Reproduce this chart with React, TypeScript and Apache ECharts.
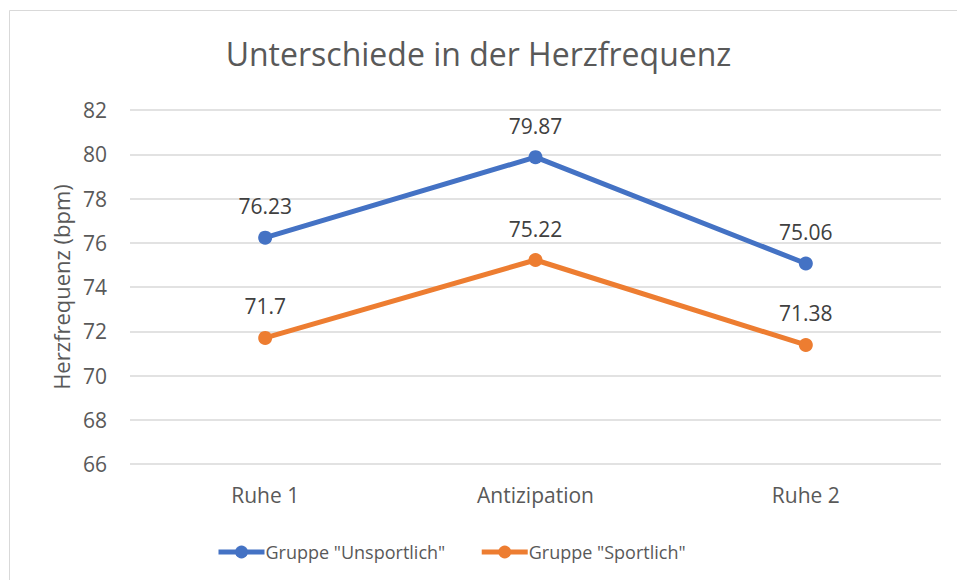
import React, { useEffect, useRef } from "react";
import * as echarts from "echarts";

const categories = ["Ruhe 1", "Antizipation", "Ruhe 2"];
const unsportlich = [76.23, 79.87, 75.06];
const sportlich = [71.7, 75.22, 71.38];
const seriesNames = ['Gruppe "Unsportlich"', 'Gruppe "Sportlich"'];
const titleText = "Unterschiede in der Herzfrequenz";
const yName = "Herzfrequenz (bpm)";

const FONT = "'Open Sans', 'Noto Sans', sans-serif";

export default function App() {
  const ref = useRef<HTMLDivElement>(null);
  useEffect(() => {
    if (!ref.current) return;
    const chart = echarts.init(ref.current, null, { renderer: "svg" });
    const label = {
      show: true,
      position: "top" as const,
      distance: 14,
      color: "#404040",
      fontSize: 21,
      fontFamily: FONT,
    };
    chart.setOption({
      animation: false,
      backgroundColor: "#ffffff",
      graphic: [
        {
          type: "line",
          shape: { x1: 9.5, y1: 10.5, x2: 957, y2: 10.5 },
          style: { stroke: "#d9d9d9", lineWidth: 1 },
          silent: true,
          z: -10,
        },
        {
          type: "line",
          shape: { x1: 9.5, y1: 10.5, x2: 9.5, y2: 580 },
          style: { stroke: "#d9d9d9", lineWidth: 1 },
          silent: true,
          z: -10,
        },
      ],
      title: {
        text: titleText,
        left: "center",
        top: 32,
        textStyle: {
          fontFamily: FONT,
          fontSize: 32,
          fontWeight: "normal",
          color: "#595959",
        },
      },
      legend: {
        bottom: 14,
        left: 211,
        itemWidth: 46,
        itemHeight: 16,
        itemGap: 34,
        textStyle: { fontFamily: FONT, fontSize: 18, color: "#595959", padding: [0, 0, 0, -4] },
        lineStyle: { width: 5 },
        data: seriesNames,
      },
      grid: { left: 130, right: 16, top: 110, bottom: 116 },
      xAxis: {
        type: "category",
        data: categories,
        axisLine: { show: false },
        axisTick: { show: false },
        axisLabel: {
          fontFamily: FONT,
          fontSize: 21,
          color: "#595959",
          margin: 20,
        },
      },
      yAxis: {
        type: "value",
        min: 66,
        max: 82,
        interval: 2,
        name: yName,
        nameLocation: "middle",
        nameGap: 58,
        nameTextStyle: { fontFamily: FONT, fontSize: 22, color: "#595959" },
        axisLine: { show: false },
        axisTick: { show: false },
        axisLabel: { fontFamily: FONT, fontSize: 21, color: "#595959", margin: 23 },
        splitLine: { lineStyle: { color: "#d9d9d9", width: 1.5 } },
      },
      series: [
        {
          name: seriesNames[0],
          type: "line",
          data: unsportlich,
          symbol: "circle",
          symbolSize: 14,
          lineStyle: { width: 5, color: "#4472c4" },
          itemStyle: { color: "#4472c4" },
          label,
        },
        {
          name: seriesNames[1],
          type: "line",
          data: sportlich,
          symbol: "circle",
          symbolSize: 14,
          lineStyle: { width: 5, color: "#ed7d31" },
          itemStyle: { color: "#ed7d31" },
          label,
        },
      ],
    });
    return () => chart.dispose();
  }, []);
  return (
    <div
      ref={ref}
      style={{ position: "absolute", left: 0, top: 0, width: 957, height: 580 }}
    />
  );
}
